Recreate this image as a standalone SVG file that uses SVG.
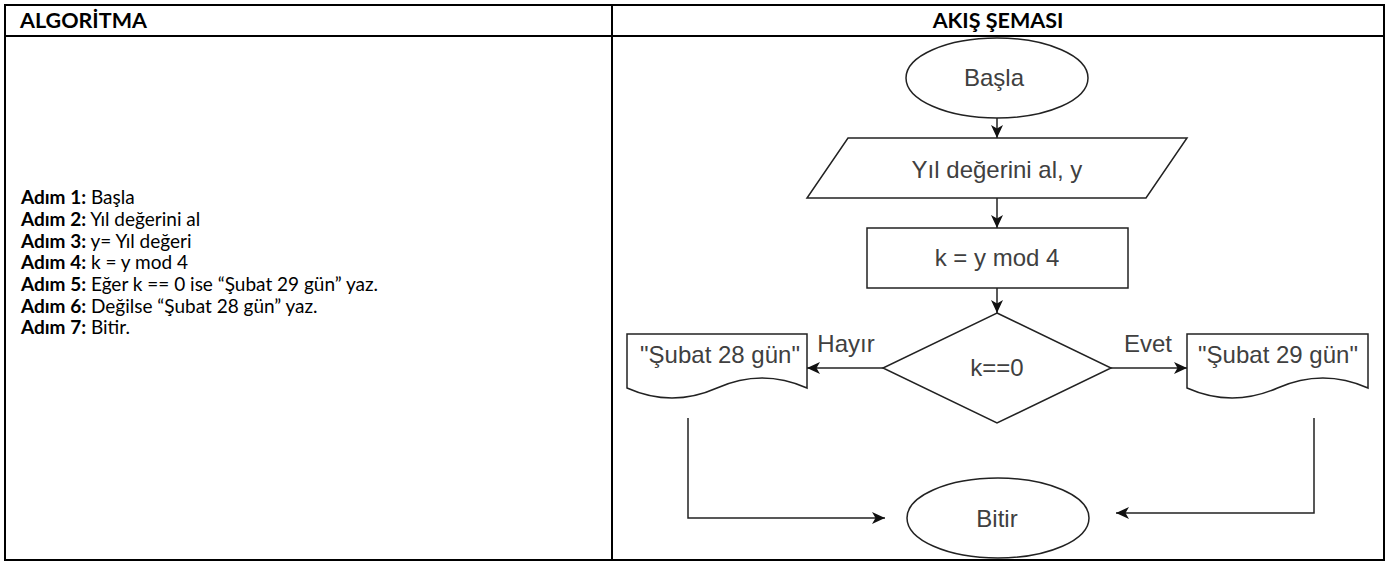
<svg xmlns="http://www.w3.org/2000/svg" width="1388" height="562" viewBox="0 0 1388 562">
  <style>
    .frame { fill: none; stroke: #000; stroke-width: 2; }
    .hdr { font-family: Lato, "Liberation Sans", sans-serif; font-size: 21.5px; font-weight: bold; fill: #000; }
    .step { font-family: Lato, "Liberation Sans", sans-serif; font-size: 19px; fill: #000; }
    .step .b { font-weight: bold; }
    .shape { fill: #fff; stroke: #222; stroke-width: 1.5; }
    .lbl { font-family: "Liberation Sans", Arial, sans-serif; font-size: 24px; fill: #404040; text-anchor: middle; }
    .edge { fill: none; stroke: #222; stroke-width: 1.5; }
  </style>
  <defs>
    <marker id="arrow" markerUnits="userSpaceOnUse" markerWidth="13" markerHeight="12" viewBox="0 0 13 12" refX="13" refY="6" orient="auto">
      <path d="M0,0 L13,6 L0,12 L3.5,6 Z" fill="#111"/>
    </marker>
  </defs>

  <rect width="1388" height="562" fill="#fff"/>

  <!-- table frame -->
  <g id="table">
    <rect class="frame" x="5" y="5" width="1379" height="555"/>
    <line class="frame" x1="5" y1="36" x2="1384" y2="36"/>
    <line class="frame" x1="612" y1="5" x2="612" y2="560"/>
    <text class="hdr" x="20" y="28">ALGORİTMA</text>
    <text class="hdr" x="998" y="28" text-anchor="middle">AKIŞ ŞEMASI</text>
  </g>

  <!-- algorithm steps -->
  <g id="steps" class="step">
    <text x="21" y="204"><tspan class="b">Adım 1:</tspan> Başla</text>
    <text x="21" y="226"><tspan class="b">Adım 2:</tspan> Yıl değerini al</text>
    <text x="21" y="248"><tspan class="b">Adım 3:</tspan> y= Yıl değeri</text>
    <text x="21" y="269"><tspan class="b">Adım 4:</tspan> k = y mod 4</text>
    <text x="21" y="291"><tspan class="b">Adım 5:</tspan> Eğer k == 0 ise “Şubat 29 gün” yaz.</text>
    <text x="21" y="313"><tspan class="b">Adım 6:</tspan> Değilse “Şubat 28 gün” yaz.</text>
    <text x="21" y="334"><tspan class="b">Adım 7:</tspan> Bitir.</text>
  </g>

  <!-- connectors -->
  <g id="connectors">
    <path class="edge" d="M997,118 V138" marker-end="url(#arrow)"/>
    <path class="edge" d="M997,198 V228" marker-end="url(#arrow)"/>
    <path class="edge" d="M997,288 V313" marker-end="url(#arrow)"/>
    <path class="edge" d="M883,368 H807" marker-end="url(#arrow)"/>
    <path class="edge" d="M1111,368 H1187" marker-end="url(#arrow)"/>
    <path class="edge" d="M688,418 V518 H885" marker-end="url(#arrow)"/>
    <path class="edge" d="M1314,418 V513 H1116" marker-end="url(#arrow)"/>
    <text class="lbl" x="846" y="352">Hayır</text>
    <text class="lbl" x="1148" y="352">Evet</text>
  </g>

  <g id="start">
    <ellipse class="shape" cx="997" cy="78" rx="91" ry="40"/>
    <text class="lbl" x="994" y="86">Başla</text>
  </g>

  <g id="input">
    <polygon class="shape" points="848,138 1187,138 1146,198 807,198"/>
    <text class="lbl" x="997" y="178">Yıl değerini al, y</text>
  </g>

  <g id="process">
    <rect class="shape" x="867" y="228" width="261" height="60"/>
    <text class="lbl" x="997" y="266">k = y mod 4</text>
  </g>

  <g id="decision">
    <polygon class="shape" points="997,313 1111,368 997,423 883,368"/>
    <text class="lbl" x="997" y="376">k==0</text>
  </g>

  <g id="out28">
    <path class="shape" d="M627,334 H807 V388 Q762,368 717,388 Q672,408 627,388 Z"/>
    <text class="lbl" x="720" y="363">"Şubat 28 gün"</text>
  </g>

  <g id="out29">
    <path class="shape" d="M1187,334 H1368 V388 Q1323,368 1277.5,388 Q1232,408 1187,388 Z"/>
    <text class="lbl" x="1278" y="363">"Şubat 29 gün"</text>
  </g>

  <g id="end">
    <ellipse class="shape" cx="998" cy="518" rx="91" ry="40"/>
    <text class="lbl" x="997" y="527">Bitir</text>
  </g>
</svg>
